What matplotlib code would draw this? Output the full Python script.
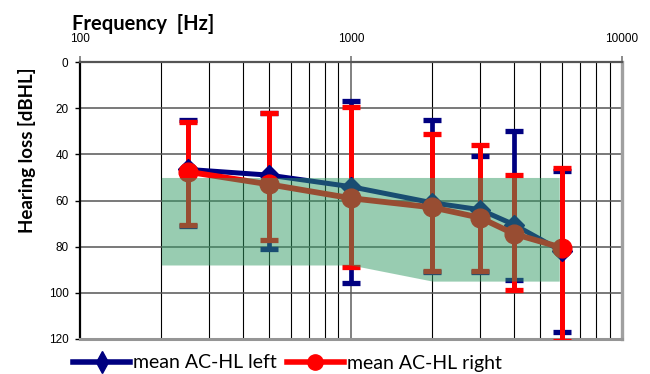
import matplotlib
matplotlib.use("Agg")
import matplotlib.pyplot as plt
from matplotlib.lines import Line2D
import numpy as np

# ---- data ----
freqs = [250, 500, 1000, 2000, 3000, 4000, 6000]
left_mean = [46.5, 49, 54, 61, 64, 70.5, 82]
left_top = [25, 22, 17, 25, 40.5, 30, 47]
left_bottom = [71, 81, 96, 91, 91, 94.5, 117]
right_mean = [47.5, 53, 59, 63, 67.5, 74.5, 80.5]
right_top = [26, 22, 19.5, 31, 36, 49, 46]
right_bottom = [70.5, 77, 89, 90.5, 90.5, 99, 121]
band_freq = [200, 1000, 2000, 5870]
band_top = [50, 50, 50, 50]
band_bottom = [88, 88, 95, 95]
ytick_vals = [0, 20, 40, 60, 80, 100, 120]
xtick_vals = [100, 1000, 10000]
xtick_labels = ["100", "1000", "10000"]
left_label = "mean AC-HL left"
right_label = "mean AC-HL right"

NAVY = "#000080"
RED = "#ff0000"
GREEN = "#339b65"

plt.rcParams['font.family'] = ['Lato', 'DejaVu Sans']

fig = plt.figure(figsize=(6.5, 3.74), dpi=100)
W, H = 650, 374
x0, x1 = 79.7, 622.0
y0, y1 = 62.3, 338.7
ax = fig.add_axes([x0 / W, 1 - y1 / H, (x1 - x0) / W, (y1 - y0) / H])

ax.set_xscale('log')
ax.set_xlim(100, 10000)
ax.set_ylim(120, 0)

tick_font = ['Liberation Sans', 'DejaVu Sans']
ax.set_axisbelow(True)
ax.set_yticks(ytick_vals)
ax.set_yticklabels([str(v) for v in ytick_vals], fontsize=8.5, family=tick_font)
ax.set_xticks(xtick_vals)
ax.set_xticklabels(xtick_labels, fontsize=8.5, family=tick_font)
ax.xaxis.set_minor_locator(matplotlib.ticker.LogLocator(base=10, subs=np.arange(2, 10)))
ax.xaxis.set_minor_formatter(matplotlib.ticker.NullFormatter())
ax.xaxis.tick_top()
ax.tick_params(axis='x', which='major', length=4, width=1.2, color='#777777', pad=8.5, top=True, bottom=False)
ax.tick_params(axis='x', which='minor', length=0, top=False, bottom=False)
ax.tick_params(axis='y', which='major', length=3.5, width=1.0, color='black', pad=4.5)
ax.grid(True, axis='y', color='#555555', lw=1.1)
ax.grid(True, axis='x', which='minor', color='black', lw=0.8)
ax.grid(True, axis='x', which='major', color='#808080', lw=1.4)

for s, c, lw in [('left', 'black', 1.6), ('top', '#555555', 1.6), ('right', '#a0a0a0', 2.4), ('bottom', '#959595', 2.2)]:
    ax.spines[s].set_color(c)
    ax.spines[s].set_linewidth(lw)

lm = np.array(left_mean); rm = np.array(right_mean)
lerr = [lm - np.array(left_top), np.array(left_bottom) - lm]
rerr = [rm - np.array(right_top), np.array(right_bottom) - rm]

# error bars
ax.errorbar(freqs, lm, yerr=lerr, fmt='none', ecolor=NAVY, elinewidth=3.4, capsize=6.5, capthick=3.8, zorder=3)
ax.errorbar(freqs, rm, yerr=rerr, fmt='none', ecolor=RED, elinewidth=3.6, capsize=6.5, capthick=3.8, zorder=4)
# mean lines
ax.plot(freqs, lm, color=NAVY, lw=3.6, marker='D', ms=10, mfc=NAVY, mec=NAVY, zorder=5)
ax.plot(freqs, rm, color=RED, lw=4.2, marker='o', ms=13.5, mfc=RED, mec=RED, zorder=6)
# green band drawn on top (semi-transparent)
ax.fill_between(band_freq, band_top, band_bottom, color=GREEN, alpha=0.5, lw=0, zorder=7)

# titles
fig.text(72 / W, 1 - 29.5 / H, "Frequency  [Hz]", fontsize=14.5, fontweight='bold', ha='left', va='baseline')
fig.text(27 / W, 1 - 150 / H, "Hearing loss [dBHL]", fontsize=13.5, fontweight='bold', rotation=90, ha='center', va='center')

# legend
h1 = Line2D([], [], color=NAVY, lw=4, marker='d', ms=11, mfc=NAVY, mec=NAVY)
h2 = Line2D([], [], color=RED, lw=4, marker='o', ms=11, mfc=RED, mec=RED)
fig.legend([h1, h2], [left_label, right_label], loc='center left', bbox_to_anchor=(73 / W, 1 - 363 / H),
           ncol=2, frameon=False, fontsize=14, handlelength=2.95, handletextpad=0.15,
           columnspacing=0.5, borderpad=0, borderaxespad=0)

fig.savefig("out.png", dpi=100)
